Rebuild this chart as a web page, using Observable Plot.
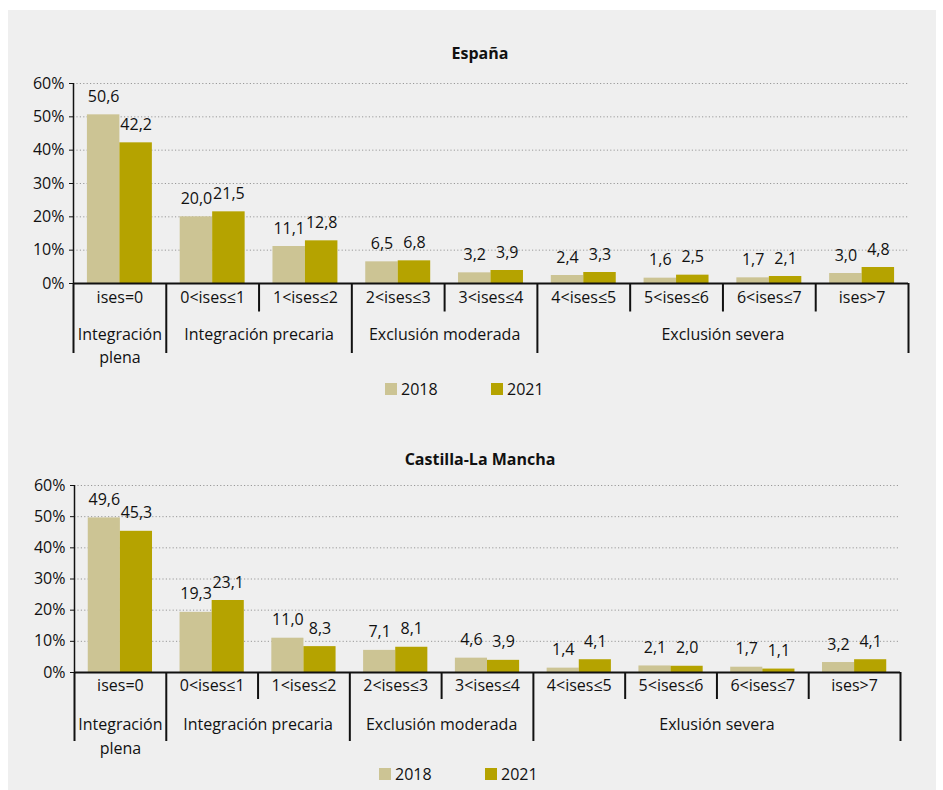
<!DOCTYPE html>
<html>
<head>
<meta charset="utf-8">
<script src="https://cdn.jsdelivr.net/npm/d3@7"></script>
<script src="https://cdn.jsdelivr.net/npm/@observablehq/plot@0.6"></script>
<style>
  body { margin: 0; background: #ffffff; font-family: "Open Sans", sans-serif; }
  #page { position: relative; width: 943px; height: 790px; overflow: hidden; }
  #panel { position: absolute; left: 8px; top: 10px; width: 928px; height: 780px; background: #efefef; }
  .title { position: absolute; left: 0; width: 960px; text-align: center; font-weight: bold; font-size: 16px; color: #111; }
  .chart { position: absolute; left: 0; }
  .legend { position: absolute; font-size: 16px; color: #111; display: flex; align-items: center; line-height: 18px; }
  .sw { width: 12px; height: 12px; display: inline-block; margin-right: 4px; }
</style>
</head>
<body>
<div id="page">
  <div id="panel"></div>
</div>
<script>
// ---- Data ----
const categories = ["ises=0", "0<ises≤1", "1<ises≤2", "2<ises≤3", "3<ises≤4", "4<ises≤5", "5<ises≤6", "6<ises≤7", "ises>7"];
const years = ["2018", "2021"];
const espana2018 = [50.6, 20.0, 11.1, 6.5, 3.2, 2.4, 1.6, 1.7, 3.0];
const espana2021 = [42.2, 21.5, 12.8, 6.8, 3.9, 3.3, 2.5, 2.1, 4.8];
const clm2018 = [49.6, 19.3, 11.0, 7.1, 4.6, 1.4, 2.1, 1.7, 3.2];
const clm2021 = [45.3, 23.1, 8.3, 8.1, 3.9, 4.1, 2.0, 1.1, 4.1];
const groupStarts = [0, 1, 3, 5];
const groupEnds = [1, 3, 5, 9];
const groupsEspana = ["Integración\nplena", "Integración precaria", "Exclusión moderada", "Exclusión severa"];
const groupsCLM = ["Integración\nplena", "Integración precaria", "Exclusión moderada", "Exlusión severa"];
const yTicks = [0, 10, 20, 30, 40, 50, 60];
const colors = ["#ccc494", "#b5a300"];

const FONT = "'Open Sans', sans-serif";
const FS = 16;

function makeChart({v18, v21, groups, width, height, marginTop, marginBottom, marginLeft, marginRight, subDy, groupDy, lineHeight}) {
  const rows = [];
  categories.forEach((c, i) => {
    rows.push({i, cat: c, year: years[0], value: v18[i]});
    rows.push({i, cat: c, year: years[1], value: v21[i]});
  });
  const pad = 0.15, half = 0.5;
  const x1 = d => d.i + (d.year === years[0] ? pad : half);
  const x2 = d => d.i + (d.year === years[0] ? half : 1 - pad);
  const groupRows = groups.map((g, k) => ({label: g, start: groupStarts[k], end: groupEnds[k]}));
  const innerBounds = [];
  const outerBounds = new Set([...groupStarts, ...groupEnds]);
  for (let b = 0; b <= categories.length; b++) if (!outerBounds.has(b)) innerBounds.push(b);
  const fmt = v => v.toFixed(1).replace(".", ",");

  return Plot.plot({
    width, height, marginTop, marginBottom, marginLeft, marginRight,
    style: {background: "transparent", fontFamily: FONT, fontSize: FS + "px", color: "#111"},
    x: {domain: [0, categories.length]},
    y: {domain: [0, 60]},
    color: {domain: years, range: colors},
    marks: [
      Plot.gridY(yTicks, {stroke: "#999", strokeOpacity: 1, strokeDasharray: "1.2,2.2", strokeWidth: 1}),
      Plot.rectY(rows, {x1, x2, y: "value", fill: "year"}),
      Plot.text(rows, {x: d => (x1(d) + x2(d)) / 2, y: "value", text: d => fmt(d.value), dy: -18, fontSize: FS, fill: "#111"}),
      Plot.ruleX([0], {stroke: "#111", strokeWidth: 1.5}),
      Plot.ruleY([0], {stroke: "#111", strokeWidth: 2}),
      Plot.axisY({ticks: yTicks, tickFormat: d => d + "%", tickSize: 4, tickPadding: 5, fontSize: FS, stroke: "#111", fill: "#111", label: null}),
      Plot.axisX(innerBounds, {tickSize: subDy * 1.5, tickFormat: () => "", stroke: "#111", strokeWidth: 2, label: null}),
      Plot.axisX([...outerBounds], {tickSize: groupDy + 29, tickFormat: () => "", stroke: "#111", strokeWidth: 2, label: null}),
      Plot.text(categories, {x: (d, i) => i + 0.5, frameAnchor: "bottom", dy: subDy, text: d => d, fontSize: FS, fill: "#111"}),
      Plot.text(groupRows, {x: d => (d.start + d.end) / 2, frameAnchor: "bottom", dy: groupDy, lineAnchor: "top", lineHeight, text: "label", fontSize: FS, fill: "#111"})
    ]
  });
}

const page = document.getElementById("page");

function addTitle(text, top) {
  const t = document.createElement("div");
  t.className = "title";
  t.style.top = top + "px";
  t.textContent = text;
  page.appendChild(t);
}
function addLegend(top, positions) {
  years.forEach((y, k) => {
    const l = document.createElement("div");
    l.className = "legend";
    l.style.top = top + "px";
    l.style.left = positions[k] + "px";
    const sw = document.createElement("span");
    sw.className = "sw";
    sw.style.background = colors[k];
    const tx = document.createElement("span");
    tx.textContent = y;
    l.appendChild(sw); l.appendChild(tx);
    page.appendChild(l);
  });
}

// Top chart: España
const c1 = makeChart({v18: espana2018, v21: espana2021, groups: groupsEspana, width: 943, height: 370,
  marginTop: 83, marginBottom: 87, marginLeft: 73, marginRight: 35, subDy: 19, groupDy: 41, lineHeight: 1.4});
c1.classList.add("chart");
c1.style.top = "0px";
page.appendChild(c1);
addTitle("España", 42);
addLegend(380, [385, 491]);

// Bottom chart: Castilla-La Mancha
const c2 = makeChart({v18: clm2018, v21: clm2021, groups: groupsCLM, width: 943, height: 360,
  marginTop: 85, marginBottom: 88, marginLeft: 74, marginRight: 43, subDy: 18, groupDy: 40, lineHeight: 1.5});
c2.classList.add("chart");
c2.style.top = "400px";
page.appendChild(c2);
addTitle("Castilla-La Mancha", 448);
addLegend(765, [379, 485]);
</script>
</body>
</html>
